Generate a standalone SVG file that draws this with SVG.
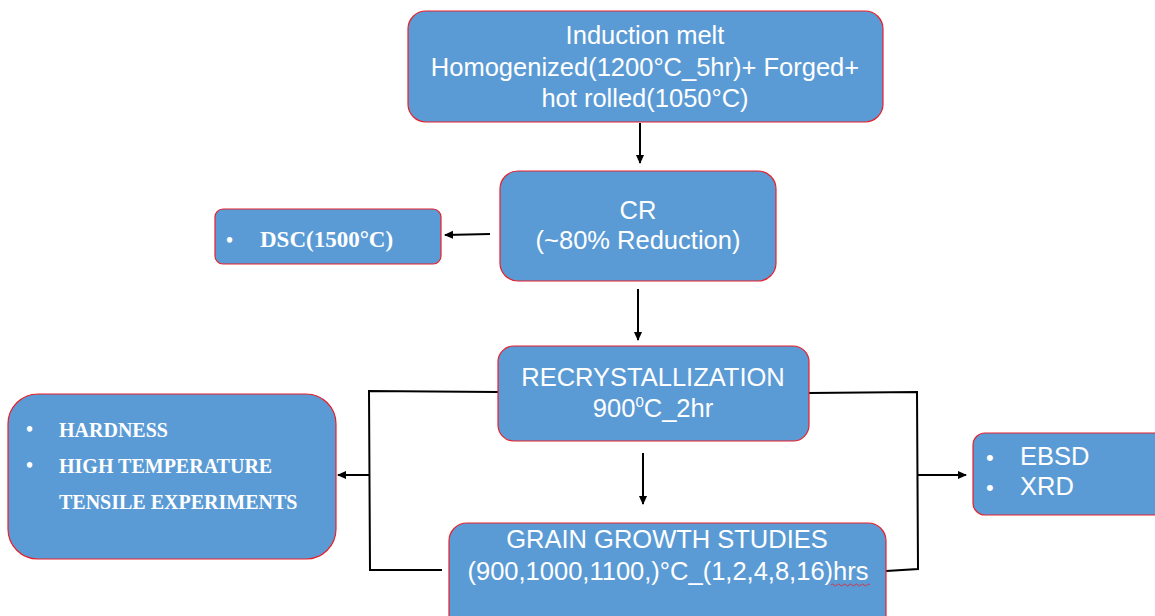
<svg xmlns="http://www.w3.org/2000/svg" width="1155" height="616" viewBox="0 0 1155 616">
  <defs>
    <marker id="arrow" markerWidth="9" markerHeight="9" refX="8" refY="4.5" orient="auto" markerUnits="userSpaceOnUse">
      <path d="M0,0.5 L9,4.5 L0,8.5 Z" fill="#000"/>
    </marker>
    <style>
      .box { fill: #5B9BD5; stroke: #E8202A; stroke-width: 1.2; }
      .sans { font-family: "Liberation Sans", Arial, sans-serif; font-size: 25.5px; fill: #fff; }
      .serif { font-family: "Liberation Serif", "Times New Roman", serif; font-size: 20px; font-weight: bold; fill: #fff; }
      .big { font-size: 23px; }
      .dot { font-size: 22px; }
      .mid { text-anchor: middle; }
      .link { fill: none; stroke: #000; stroke-width: 2; }
    </style>
  </defs>
  <rect width="1155" height="616" fill="#fff"/>

  <!-- connectors -->
  <g id="connectors">
    <line class="link" x1="640" y1="123" x2="640" y2="163" marker-end="url(#arrow)"/>
    <line class="link" x1="490" y1="234" x2="445" y2="235" marker-end="url(#arrow)"/>
    <line class="link" x1="638" y1="289" x2="638" y2="340" marker-end="url(#arrow)"/>
    <line class="link" x1="643" y1="453" x2="643" y2="504" marker-end="url(#arrow)"/>
    <polyline class="link" points="498,392 369,391 370,570 442,570"/>
    <line class="link" x1="369" y1="475" x2="338" y2="475" marker-end="url(#arrow)"/>
    <polyline class="link" points="809,393 917,392 918,569 886,571"/>
    <line class="link" x1="918" y1="475" x2="966" y2="475" marker-end="url(#arrow)"/>
  </g>

  <g id="melt">
    <rect class="box" x="408" y="11" width="475" height="111" rx="18"/>
    <text class="sans mid" x="645" y="44">Induction melt</text>
    <text class="sans mid" x="645" y="76">Homogenized(1200°C_5hr)+ Forged+</text>
    <text class="sans mid" x="645" y="107">hot rolled(1050°C)</text>
  </g>

  <g id="cr">
    <rect class="box" x="500" y="171" width="276" height="110" rx="18"/>
    <text class="sans mid" x="638" y="219">CR</text>
    <text class="sans mid" x="638" y="249">(~80% Reduction)</text>
  </g>

  <g id="dsc">
    <rect class="box" x="215" y="209" width="226" height="55" rx="8"/>
    <text class="serif" x="226" y="247">•</text>
    <text class="serif big" x="260" y="247">DSC(1500°C)</text>
  </g>

  <g id="recrystallization">
    <rect class="box" x="498" y="346" width="311" height="95" rx="16"/>
    <text class="sans mid" x="653" y="386">RECRYSTALLIZATION</text>
    <text class="sans mid" x="653" y="417">900<tspan font-size="15" dy="-10">0</tspan><tspan dy="10">C_2hr</tspan></text>
  </g>

  <g id="grain-growth">
    <rect class="box" x="449" y="523" width="437" height="110" rx="18"/>
    <text class="sans mid" x="667" y="548">GRAIN GROWTH STUDIES</text>
    <text class="sans mid" x="668" y="580">(900,1000,1100,)°C_(1,2,4,8,16)hrs</text>
    <path d="M831,585 q1.5,-2 3,0 t3,0 t3,0 t3,0 t3,0 t3,0 t3,0 t3,0 t3,0 t3,0 t3,0 t3,0 t3,0" fill="none" stroke="#E8202A" stroke-width="0.8"/>
  </g>

  <g id="mechanical-tests">
    <rect class="box" x="8" y="394" width="328" height="165" rx="30"/>
    <text class="serif" x="26" y="436">•</text>
    <text class="serif" x="59" y="437">HARDNESS</text>
    <text class="serif" x="26" y="472">•</text>
    <text class="serif" x="59" y="473">HIGH TEMPERATURE</text>
    <text class="serif" x="59" y="509">TENSILE EXPERIMENTS</text>
  </g>

  <g id="characterization">
    <rect class="box" x="973" y="433" width="200" height="82" rx="12"/>
    <text class="sans dot" x="986" y="465">•</text>
    <text class="sans" x="1020" y="465">EBSD</text>
    <text class="sans dot" x="986" y="495">•</text>
    <text class="sans" x="1020" y="495">XRD</text>
  </g>
</svg>
